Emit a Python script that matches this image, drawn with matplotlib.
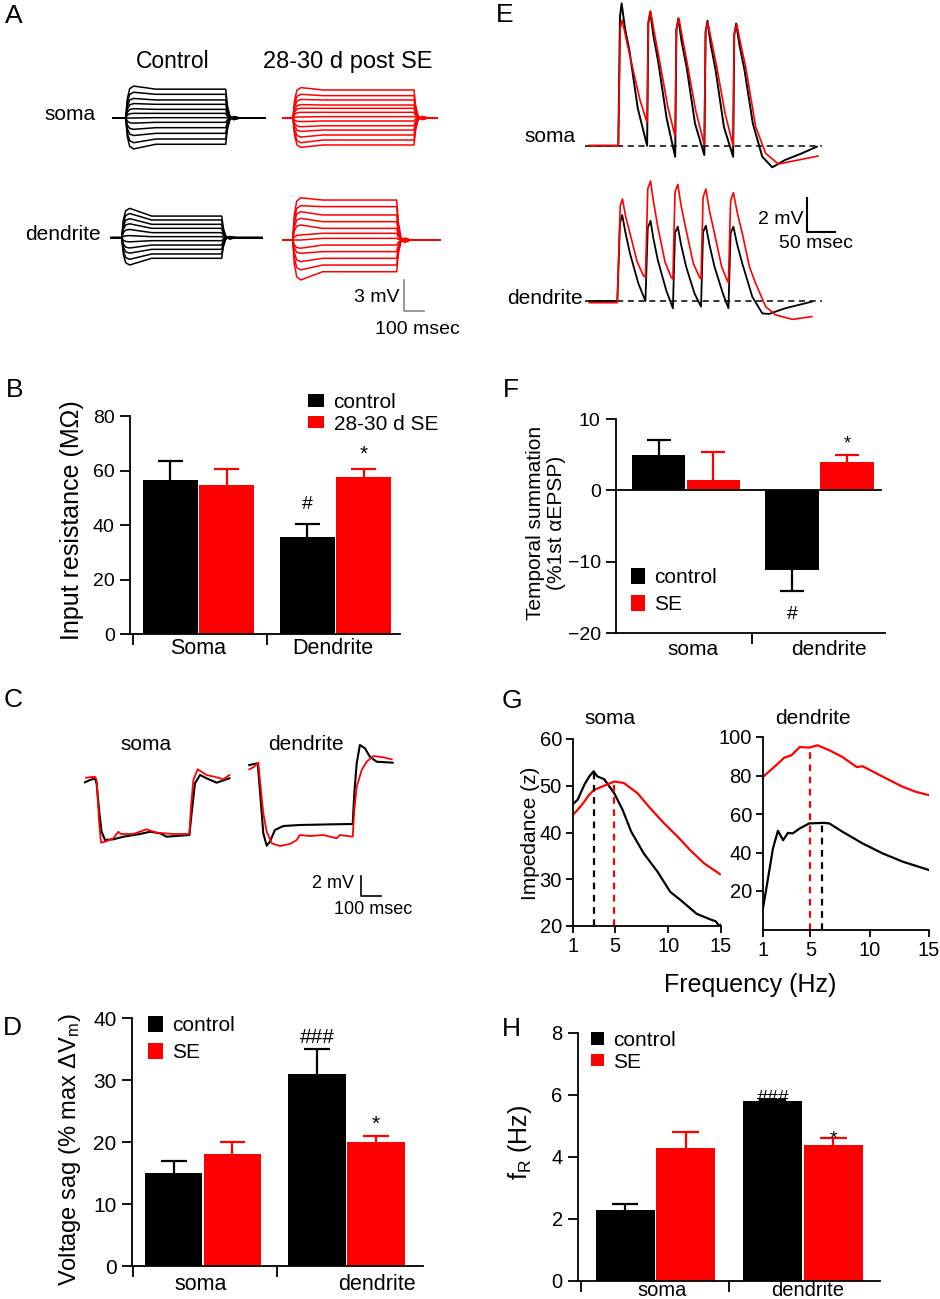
import numpy as np
import matplotlib
matplotlib.use('Agg')
import matplotlib.pyplot as plt
from matplotlib.patches import Patch

plt.rcParams['font.family'] = ['Liberation Sans', 'DejaVu Sans']
plt.rcParams['mathtext.fontset'] = 'custom'
plt.rcParams['mathtext.rm'] = 'Liberation Sans'
plt.rcParams['mathtext.default'] = 'regular'

RED = '#ff0000'

# ---------------- A: step-current families (mV) ----------------
# early = deflection ~40 ms into the step, late = end of step
A_SOMA_CTRL_EARLY = [3.1, 2.5, 1.9, 1.4, 0.9, 0.45, 0.0, -0.5, -1.1, -1.7, -2.4, -3.0]
A_SOMA_CTRL_LATE = [2.8, 2.3, 1.75, 1.33, 0.84, 0.45, 0.03, -0.42, -0.94, -1.49, -2.04, -2.55]
A_SOMA_SE_EARLY = [2.95, 2.3, 1.8, 1.3, 0.95, 0.55, 0.1, -0.35, -0.85, -1.3, -1.85, -2.4, -2.85]
A_SOMA_SE_LATE = [2.72, 2.17, 1.75, 1.26, 0.94, 0.55, 0.13, -0.29, -0.75, -1.17, -1.65, -2.14, -2.62]
A_DEND_CTRL_EARLY = [2.85, 2.35, 1.85, 1.35, 0.8, 0.2, -0.4, -1.0, -1.5, -2.1, -2.65]
A_DEND_CTRL_LATE = [2.1, 1.72, 1.3, 0.91, 0.49, 0.1, -0.29, -0.71, -1.13, -1.58, -2.0]
A_DEND_SE_EARLY = [4.1, 3.33, 2.75, 2.1, 1.46, 0.49, 0.0, -0.8, -1.29, -2.1, -2.9, -3.88]
A_DEND_SE_LATE = [3.88, 3.24, 2.43, 1.78, 1.13, 0.65, 0.16, -0.49, -1.13, -1.78, -2.43, -3.08]
# waveform key points
RISE_T = [0, 8, 20, 40]          # ms after onset
RISE_F = [0, 0.6, 0.92, 1.0]     # fraction of early deflection
SAG_END = 150                    # ms
DECAY_T = [0, 8, 20, 40, 70]     # ms after offset
DECAY_F = [1.0, 0.45, 0.08, -0.06, 0.0]

# ---------------- C: sag traces (ms, mV) ----------------
C_SOMA_CTRL_T = [-55, -30, -5, 3, 17, 28, 45, 87, 137, 220, 270, 320, 353, 420, 467, 478, 495, 520, 553, 603, 667]
C_SOMA_CTRL_V = [-0.23, 0, 0.17, -0.33, -3.33, -5.17, -6.0, -5.93, -5.67, -5.4, -5.17, -5.33, -5.67, -5.57, -5.5,
                 -3.33, -0.33, 0.5, 0.17, -0.27, 0.17]
C_SOMA_SE_T = [-50, -5, 3, 15, 25, 45, 87, 112, 123, 187, 253, 303, 387, 467, 475, 487, 508, 553, 603, 637, 667]
C_SOMA_SE_V = [0.23, 0.33, 0, -4.0, -6.27, -6.17, -5.83, -5.17, -5.4, -5.4, -4.93, -5.27, -5.4, -5.4, -2.67, 0,
               1.07, 0.5, 0.27, 0.07, 0.5]
C_DEND_CTRL_T = [-45, -3, 8, 25, 42, 58, 83, 125, 208, 375, 472, 480, 492, 508, 533, 558, 592, 672]
C_DEND_CTRL_V = [0, 0.17, -2.5, -6.83, -8.07, -7.67, -6.5, -6.1, -6.0, -5.93, -5.9, -2.83, 0.17, 2.0, 1.67,
                 0.83, 0.33, 0.23]
C_DEND_SE_T = [-45, -25, 0, 8, 25, 42, 67, 108, 158, 192, 208, 258, 325, 392, 408, 472, 480, 492, 517, 542,
               575, 625, 667]
C_DEND_SE_V = [-0.43, -0.23, 0.23, -1.5, -4.83, -6.67, -7.83, -8.1, -7.9, -7.5, -7.0, -7.1, -7.0, -7.33, -7.0,
               -7.17, -4.5, -2.17, -0.5, 0.33, 0.9, 0.77, 0.57]

# ---------------- E: alpha-EPSP trains (ms, mV) ----------------
E_SOMA_CTRL_T = [-52, 0, 3, 6, 12, 20, 35, 51.8, 54, 57.5, 63, 72, 87, 102.3, 104.5, 108, 114, 123, 138, 154.7,
                 157, 160.5, 166, 175, 190, 206.5, 208.5, 212, 218, 227, 242, 259, 277, 300, 330, 357]
E_SOMA_CTRL_V = [0, 0, 7.6, 8.37, 6.9, 5.6, 2.2, 0.0, 7.2, 7.88, 6.5, 4.9, 1.6, -0.65, 6.8, 7.49, 6.1, 4.6, 1.3,
                 -0.55, 6.7, 7.35, 6.0, 4.45, 1.1, -0.65, 6.5, 7.19, 5.9, 4.45, 1.3, -0.65, -1.27, -0.84, -0.45,
                 -0.06]
E_SOMA_SE_T = [-52, 0, 3.5, 7, 14, 24, 39, 51.8, 54, 58, 65, 74, 89, 102.3, 104.5, 109, 115, 124, 139, 154.7, 157,
               161, 168, 177, 192, 206.5, 208.5, 213, 220, 229, 247, 265, 288, 324, 359]
E_SOMA_SE_V = [0, 0, 6.9, 7.39, 6.3, 4.84, 2.69, 1.35, 7.3, 7.92, 6.6, 5.04, 2.29, 0.53, 6.9, 7.49, 6.4, 4.84,
               2.1, 0.04, 6.7, 7.25, 6.1, 4.65, 1.9, 0.0, 6.6, 7.15, 6.0, 4.65, 1.12, -0.45, -1.08, -0.84, -0.61]
E_DEND_CTRL_T = [-52, -1.8, 3, 7, 13, 21, 36, 48.8, 53, 58, 63, 71, 86, 98.2, 102, 107, 113, 122, 137, 148.8,
                 152.5, 157.5, 164, 173, 188, 198.1, 202, 207, 214, 223, 241, 259, 271, 300, 348]
E_DEND_CTRL_V = [0, 0, 4.6, 5.06, 4.0, 2.8, 1.04, 0, 4.3, 4.72, 3.7, 2.41, 0.65, -0.43, 4.0, 4.37, 3.3, 2.02,
                 0.45, -0.33, 4.05, 4.43, 3.3, 2.02, 0.45, -0.43, 4.0, 4.37, 3.3, 2.21, 0.25, -0.73, -0.76,
                 -0.43, -0.04]
E_DEND_SE_T = [-52, -1.8, 3.5, 7.5, 13, 21, 34, 45, 48.8, 53, 58, 63, 71, 84, 95, 98.2, 102, 107, 113, 122,
               135, 146, 148.8, 152.5, 157.5, 164, 173, 186, 196, 198.1, 202, 207, 214, 223, 236, 247, 265, 283,
               313, 348]
E_DEND_SE_V = [-0.1, -0.1, 5.6, 6.0, 5.0, 3.98, 2.3, 1.5, 1.4, 6.6, 7.06, 5.9, 4.37, 2.3, 1.4, 1.3, 6.4, 6.86,
               5.6, 4.17, 2.2, 1.4, 1.3, 6.1, 6.59, 5.3, 3.98, 2.0, 1.2, 1.1, 5.9, 6.37, 5.2, 3.98, 2.0, 1.04,
               -0.33, -0.82, -1.08, -0.92]

# ---------------- bar data ----------------
B_GROUPS = ['Soma', 'Dendrite']
B_CTRL, B_CTRL_ERR = [56.5, 35.5], [7.0, 5.0]
B_SE, B_SE_ERR = [54.5, 57.5], [6.0, 3.0]

D_GROUPS = ['soma', 'dendrite']
D_CTRL, D_CTRL_ERR = [15.0, 31.0], [2.0, 4.0]
D_SE, D_SE_ERR = [18.0, 20.0], [2.0, 1.0]

F_GROUPS = ['soma', 'dendrite']
F_CTRL, F_CTRL_ERR = [5.0, -11.2], [2.0, 2.9]
F_SE, F_SE_ERR = [1.4, 4.0], [4.0, 1.0]

H_GROUPS = ['soma', 'dendrite']
H_CTRL, H_CTRL_ERR = [2.3, 5.8], [0.2, 0.05]
H_SE, H_SE_ERR = [4.3, 4.4], [0.5, 0.2]

# ---------------- G: impedance profiles ----------------
G_SOMA_CTRL_F = [1.0, 1.44, 2.07, 2.54, 2.95, 3.3, 3.95, 4.9, 5.7, 6.5, 7.7, 9.0, 10.2, 11.2, 12.7, 14.0, 14.5, 14.8, 15.0]
G_SOMA_CTRL_Z = [46.1, 47.0, 50.2, 52.0, 53.1, 52.0, 51.4, 48.4, 44.8, 40.2, 35.5, 31.6, 27.3, 25.5, 22.6, 21.4,
                 21.0, 20.1, 20.3]
G_SOMA_SE_F = [1.0, 1.5, 2.07, 2.5, 3.0, 3.5, 3.95, 4.9, 5.8, 7.1, 8.3, 9.6, 10.9, 12.1, 13.4, 14.9]
G_SOMA_SE_Z = [43.8, 45.0, 46.6, 48.0, 49.1, 49.6, 50.0, 50.9, 50.6, 48.4, 45.2, 42.0, 39.1, 36.2, 33.4, 31.1]
G_DEND_CTRL_F = [1.0, 1.4, 1.84, 2.26, 2.7, 3.1, 3.5, 4.1, 4.9, 6.1, 6.6, 7.7, 9.4, 11.1, 12.8, 15.0]
G_DEND_CTRL_Z = [11.0, 25.7, 42.1, 51.3, 46.4, 50.2, 49.9, 52.5, 55.1, 55.4, 55.1, 50.8, 44.7, 39.5, 35.2, 30.9]
G_DEND_SE_F = [1.0, 2.1, 2.8, 3.4, 4.1, 4.9, 5.6, 6.6, 7.7, 8.9, 9.4, 10.6, 11.7, 12.8, 13.9, 15.0]
G_DEND_SE_Z = [79.3, 85.3, 89.3, 90.5, 94.8, 94.5, 95.7, 93.1, 89.6, 84.4, 84.8, 81.0, 77.5, 74.1, 71.5, 69.8]
G_SOMA_FR = {'ctrl': (2.95, 53.1), 'se': (4.9, 50.9)}
G_DEND_FR = {'ctrl': (6.0, 55.4), 'se': (5.0, 95.0)}

# ---------------- figure ----------------
W, H = 940, 1299
fig = plt.figure(figsize=(W / 100, H / 100), dpi=100)


def px_axes(x0, y0, x1, y1):
    return fig.add_axes([x0 / W, 1 - y1 / H, (x1 - x0) / W, (y1 - y0) / H])


def trace_axes(ox, oy, sx, sy, xlim, ylim):
    # data-unit axes whose origin sits at pixel (ox, oy); sx, sy = px per unit
    ax = px_axes(ox + xlim[0] * sx, oy - ylim[1] * sy, ox + xlim[1] * sx, oy - ylim[0] * sy)
    ax.set_xlim(*xlim); ax.set_ylim(*ylim); ax.axis('off')
    return ax


def ftext(x, y, s, **kw):
    kw.setdefault('ha', 'center'); kw.setdefault('va', 'center')
    fig.text(x / W, 1 - y / H, s, **kw)


def step_sweep(early, late, pre, dur, post):
    t = [-pre] + RISE_T + [SAG_END, dur] + [dur + d for d in DECAY_T[1:]] + [dur + post]
    v = [0] + [early * f for f in RISE_F] + [late, late] + [late * f for f in DECAY_F[1:]] + [0]
    return t, v


# ---- A ----
A_SX, A_SY = 0.2, 10.3
fams = [((125.7, 118), A_SOMA_CTRL_EARLY, A_SOMA_CTRL_LATE, 63, 500, 197, 'black'),
        ((293, 118), A_SOMA_SE_EARLY, A_SOMA_SE_LATE, 50, 605, 115, RED),
        ((121.7, 237.7), A_DEND_CTRL_EARLY, A_DEND_CTRL_LATE, 53, 500, 200, 'black'),
        ((292.7, 240), A_DEND_SE_EARLY, A_DEND_SE_LATE, 47, 520, 216, RED)]
for (ox, oy), early, late, pre, dur, post, col in fams:
    ax = trace_axes(ox, oy, A_SX, A_SY, (-pre - 5, dur + post + 5), (-4.5, 4.5))
    for e, l in zip(early, late):
        t, v = step_sweep(e, l, pre, dur, post)
        ax.plot(t, v, color=col, lw=1.1)
    if col == RED and oy > 200:
        ax.plot([556, 556, 656], [-3.9, -6.9, -6.9], color='#888888', lw=1.2, clip_on=False)
ftext(5, 23, 'A', ha='left', va='baseline', fontsize=19)
ftext(173, 62, 'Control', fontsize=16.5)
ftext(348, 62, '28-30 d post SE', fontsize=17)
ftext(70, 115, 'soma', fontsize=15)
ftext(63, 235, 'dendrite', fontsize=15)
ftext(399, 298, '3 mV', ha='right', fontsize=14)
ftext(417, 330, '100 msec', fontsize=14)

# ---- C ----
C_SX, C_SY = 0.2, 10.0
ax = trace_axes(96, 780, C_SX, C_SY, (-70, 690), (-9, 3))
ax.plot(C_SOMA_CTRL_T, C_SOMA_CTRL_V, color='black', lw=1.5)
ax.plot(C_SOMA_SE_T, C_SOMA_SE_V, color=RED, lw=1.3)
ax = trace_axes(258.3, 765, C_SX, C_SY, (-60, 700), (-9, 3))
ax.plot(C_DEND_CTRL_T, C_DEND_CTRL_V, color='black', lw=1.5)
ax.plot(C_DEND_SE_T, C_DEND_SE_V, color=RED, lw=1.3)
ax.plot([513.5, 513.5, 613.5], [-11.1, -13.1, -13.1], color='black', lw=1.2, clip_on=False)
ftext(4, 707, 'C', ha='left', va='baseline', fontsize=19)
ftext(146, 745, 'soma', fontsize=15)
ftext(306, 745, 'dendrite', fontsize=15)
ftext(354, 883, '2 mV', ha='right', fontsize=13)
ftext(373, 910, '100 msec', fontsize=13)

# ---- E ----
E_SX, E_SY = 0.556, 17.0
ax = trace_axes(618.3, 145.7, E_SX, E_SY, (-65, 380), (-2.2, 8.7))
ax.plot([-59.5, 366], [0, 0], color='black', lw=1.1, ls=(0, (4, 3)))
ax.plot(E_SOMA_CTRL_T, E_SOMA_CTRL_V, color='black', lw=1.4)
ax.plot(E_SOMA_SE_T, E_SOMA_SE_V, color=RED, lw=1.2)
ax = trace_axes(618.3, 301, E_SX, E_SY, (-65, 380), (-1.6, 7.5))
ax.plot([-59.5, 366], [0, 0], color='black', lw=1.1, ls=(0, (4, 3)))
ax.plot(E_DEND_CTRL_T, E_DEND_CTRL_V, color='black', lw=1.3)
ax.plot(E_DEND_SE_T, E_DEND_SE_V, color=RED, lw=1.2)
ax.plot([340, 340, 390], [6.04, 4.04, 4.04], color='black', lw=1.5, clip_on=False)
ftext(496, 22, 'E', ha='left', va='baseline', fontsize=19)
ftext(550, 137, 'soma', fontsize=15)
ftext(545, 299, 'dendrite', fontsize=15)
ftext(804, 219, '2 mV', ha='right', fontsize=14)
ftext(816, 243, '50 msec', fontsize=14)


# ---- bar panels ----
def bar_panel(box, ctrl, ctrl_err, se, se_err, ylim, yticks, xlim, seps, label_x, groups,
              pad, tfs, gfs, width=0.40, off=0.205):
    ax = px_axes(*box)
    x = np.arange(len(ctrl))
    for vals, errs, col, o in ((ctrl, ctrl_err, 'black', -off), (se, se_err, RED, off)):
        vals = np.asarray(vals, float); errs = np.asarray(errs, float)
        tips = vals + np.sign(vals) * errs
        ax.vlines(x + o, vals, tips, color=col, lw=1.6, zorder=1)
        ax.hlines(tips, x + o - 0.09, x + o + 0.09, color=col, lw=1.6, zorder=1)
        ax.bar(x + o, vals, width, color=col, zorder=2)
    ax.set_xlim(*xlim); ax.set_ylim(*ylim)
    ax.spines[['top', 'right']].set_visible(False)
    for s in ('left', 'bottom'):
        ax.spines[s].set_linewidth(1.3)
    ax.set_yticks(yticks)
    ax.set_xticks(seps); ax.set_xticklabels([])
    ax.set_xticks(label_x, minor=True); ax.set_xticklabels(groups, minor=True)
    ax.tick_params(axis='x', which='minor', length=0, pad=pad, labelsize=gfs)
    ax.tick_params(axis='x', which='major', direction='out', length=8, width=1.3)
    ax.tick_params(axis='y', direction='out', length=7, width=1.3, labelsize=tfs, pad=4)
    return ax


def legend(ax, labels, x, y, hl, hh, spacing):
    handles = [Patch(color='black', lw=0), Patch(color=RED, lw=0)]
    ax.legend(handles, labels, loc='upper left', bbox_to_anchor=(x / W, 1 - y / H),
              bbox_transform=fig.transFigure, frameon=False, fontsize=15, borderpad=0,
              borderaxespad=0, handlelength=hl, handleheight=hh, handletextpad=0.45,
              labelspacing=spacing)


# B
ax = bar_panel((130, 416, 400, 634), B_CTRL, B_CTRL_ERR, B_SE, B_SE_ERR, (0, 80), range(0, 81, 20),
               (-0.5, 1.47), [-0.48, 0.5], [0.0, 0.98], B_GROUPS, 3, 14, 15.5)
ax.text(0.795, 44.5, '#', ha='center', va='bottom', fontsize=14)
ax.text(1.205, 62.5, '*', ha='center', va='bottom', fontsize=15)
legend(ax, ['control', '28-30 d SE'], 308, 393, 0.78, 0.55, 0.12)
ftext(72, 520, 'Input resistance (MΩ)', rotation=90, fontsize=18)
ftext(6, 397, 'B', ha='left', va='baseline', fontsize=19)

# D
ax = bar_panel((132, 1018, 423, 1266), D_CTRL, D_CTRL_ERR, D_SE, D_SE_ERR, (0, 40), range(0, 41, 10),
               (-0.495, 1.533), [-0.488, 0.516], [-0.02, 1.21], D_GROUPS, 6, 15, 15.5)
ax.text(0.795, 35.3, '###', ha='center', va='bottom', fontsize=15)
ax.text(1.205, 21.3, '*', ha='center', va='bottom', fontsize=15)
legend(ax, ['control', 'SE'], 148, 1016, 0.72, 0.78, 0.4)
ftext(70, 1150, 'Voltage sag (% max ΔV$_m$)', rotation=90, fontsize=17)
ftext(3, 1035, 'D', ha='left', va='baseline', fontsize=19)

# F
ax = bar_panel((616, 419, 885, 633), F_CTRL, F_CTRL_ERR, F_SE, F_SE_ERR, (-20, 10), [-20, -10, 0, 10],
               (-0.524, 1.49), [0.494], [0.05, 1.07], F_GROUPS, 5, 14, 15)
ax.axhline(0, xmin=0.007, xmax=0.985, color='black', lw=1.3, zorder=3)
ax.text(1.205, 5.3, '*', ha='center', va='bottom', fontsize=13)
ax.text(0.795, -17.4, '#', ha='center', va='center', fontsize=14)
legend(ax, ['control', 'SE'], 631, 568, 0.68, 0.78, 0.4)
ftext(546, 523, 'Temporal summation\n(%1st αEPSP)', rotation=90, fontsize=15, linespacing=1.1)
ftext(503, 397, 'F', ha='left', va='baseline', fontsize=19)

# H
ax = bar_panel((578, 1033, 880, 1281), H_CTRL, H_CTRL_ERR, H_SE, H_SE_ERR, (0, 8), range(0, 9, 2),
               (-0.525, 1.522), [-0.505, 0.498], [0.044, 1.034], H_GROUPS, 0, 14.5, 14.5)
ax.text(0.795, 5.62, '###', ha='center', va='bottom', fontsize=14)
ax.text(1.205, 4.32, '*', ha='center', va='bottom', fontsize=14)
legend(ax, ['control', 'SE'], 591, 1031, 0.63, 0.55, 0.12)
ftext(520, 1142, 'f$_R$ (Hz)', rotation=90, fontsize=18)
ftext(502, 1036, 'H', ha='left', va='baseline', fontsize=19)


# ---- G ----
def imp_axes(box, ylim, yticks):
    ax = px_axes(*box)
    ax.set_xlim(1, 15); ax.set_ylim(*ylim)
    ax.set_xticks([1, 5, 10, 15]); ax.set_yticks(yticks)
    ax.spines[['top', 'right']].set_visible(False)
    for s in ('left', 'bottom'):
        ax.spines[s].set_linewidth(1.3)
    ax.tick_params(direction='out', length=5, width=1.3, labelsize=14.5, pad=3)
    return ax


ax = imp_axes((573, 739, 721, 926), (20, 60), range(20, 61, 10))
ax.plot(G_SOMA_CTRL_F, G_SOMA_CTRL_Z, color='black', lw=1.6)
ax.plot(G_SOMA_SE_F, G_SOMA_SE_Z, color=RED, lw=1.6)
for key, col in (('ctrl', 'black'), ('se', RED)):
    f, z = G_SOMA_FR[key]
    ax.vlines(f, 20, z, color=col, lw=1.6, linestyles=(0, (3, 2.5)))
ax = imp_axes((763, 737, 929, 929.5), (0, 100), range(20, 101, 20))
ax.plot(G_DEND_SE_F, G_DEND_SE_Z, color=RED, lw=1.6)
ax.plot(G_DEND_CTRL_F, G_DEND_CTRL_Z, color='black', lw=1.6)
for key, col in (('ctrl', 'black'), ('se', RED)):
    f, z = G_DEND_FR[key]
    ax.vlines(f, 0, z, color=col, lw=1.6, linestyles=(0, (3, 2.5)))
ftext(610, 719, 'soma', fontsize=15)
ftext(813, 719, 'dendrite', fontsize=15)
ftext(750, 985, 'Frequency (Hz)', fontsize=18)
ftext(530, 833, 'Impedance (z)', rotation=90, fontsize=15)
ftext(502, 708, 'G', ha='left', va='baseline', fontsize=19)

fig.savefig('out.png', dpi=100)
